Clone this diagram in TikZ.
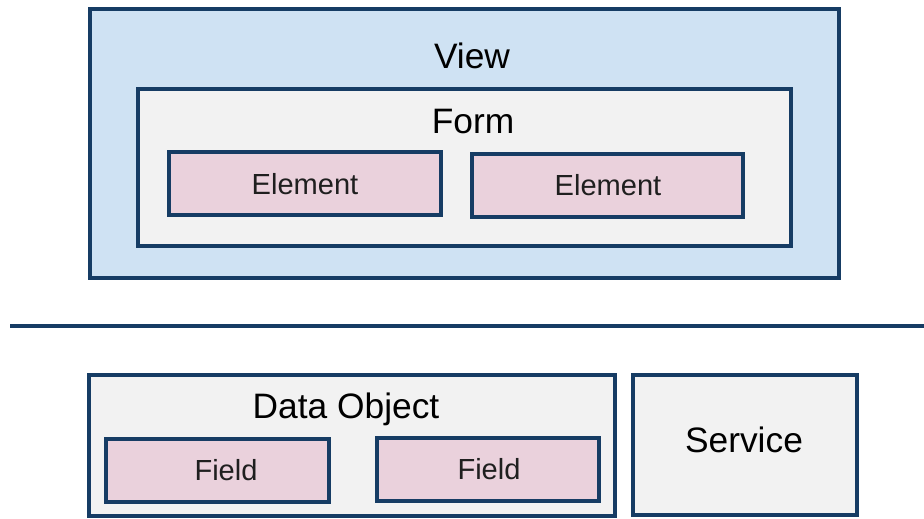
\documentclass[tikz,border=0pt]{standalone}
\usepackage{fontspec}
\setmainfont{Liberation Sans}
\usetikzlibrary{fit}
\definecolor{edge}{HTML}{163C64}
\definecolor{viewfill}{HTML}{CFE2F3}
\definecolor{panelfill}{HTML}{F2F2F2}
\definecolor{itemfill}{HTML}{EAD1DC}
\tikzset{
  panel/.style={draw=edge, line width=2.6pt, inner sep=0pt, outer sep=0pt},
  viewbox/.style={panel, fill=viewfill},
  graybox/.style={panel, fill=panelfill},
  itembox/.style={panel, fill=itemfill},
  bigtext/.style={anchor=base, inner sep=0pt, font=\fontsize{26.5pt}{30pt}\selectfont},
  smalltext/.style={anchor=base, inner sep=0pt, text=black!88, font=\fontsize{21.8pt}{25pt}\selectfont},
}
\begin{document}
\begin{tikzpicture}[x=0.75pt, y=-0.75pt]
\useasboundingbox (0,0) rectangle (924,518);

% presentation layer
\node[viewbox, fit={(90,9) (839,278)}] (view) {};
\node[graybox, fit={(138,89) (791,246)}] (form) {};
\node[itembox, fit={(169,152) (441,215)}] (elem1) {};
\node[itembox, fit={(472,154) (743,217)}] (elem2) {};
\node[bigtext] (viewlbl) at (472,68) {View};
\node[bigtext] (formlbl) at (473,133) {Form};
\node[smalltext] (elem1lbl) at (305,194) {Element};
\node[smalltext] (elem2lbl) at (608,195) {Element};

% separator
\coordinate (sepL) at (10,326);
\coordinate (sepR) at (924,326);
\draw[draw=edge, line width=2.4pt] (sepL) -- (sepR);

% data layer
\node[graybox, fit={(89,375) (615,516)}] (dobj) {};
\node[graybox, fit={(633,375) (857,515)}] (service) {};
\node[itembox, fit={(106,439) (329,502)}] (field1) {};
\node[itembox, fit={(377,438) (599,501)}] (field2) {};
\node[bigtext] (dobjlbl) at (346,418) {Data Object};
\node[bigtext] (servicelbl) at (744,452) {Service};
\node[smalltext] (field1lbl) at (226,480) {Field};
\node[smalltext] (field2lbl) at (489,479) {Field};
\end{tikzpicture}
\end{document}
